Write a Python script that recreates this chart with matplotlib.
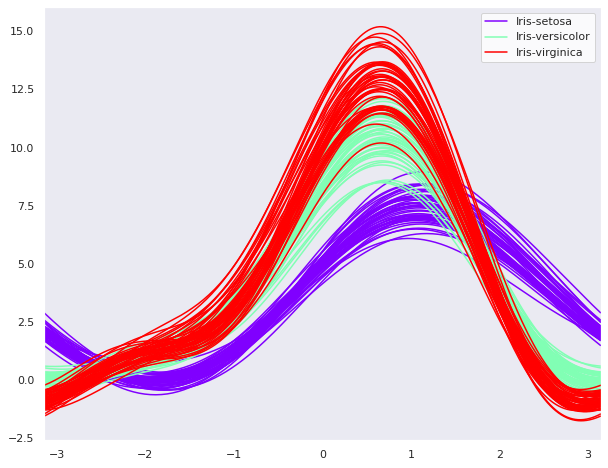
import numpy as np
import matplotlib
matplotlib.use("Agg")
import matplotlib.pyplot as plt
import seaborn as sns

# -----------------------------
# Iris measurements per species
# -----------------------------
setosa_sl = [5.1, 4.9, 4.7, 4.6, 5.0, 5.4, 4.6, 5.0, 4.4, 4.9, 5.4, 4.8, 4.8, 4.3, 5.8, 5.7, 5.4, 5.1, 5.7, 5.1,
             5.4, 5.1, 4.6, 5.1, 4.8, 5.0, 5.0, 5.2, 5.2, 4.7, 4.8, 5.4, 5.2, 5.5, 4.9, 5.0, 5.5, 4.9, 4.4, 5.1,
             5.0, 4.5, 4.4, 5.0, 5.1, 4.8, 5.1, 4.6, 5.3, 5.0]
setosa_sw = [3.5, 3.0, 3.2, 3.1, 3.6, 3.9, 3.4, 3.4, 2.9, 3.1, 3.7, 3.4, 3.0, 3.0, 4.0, 4.4, 3.9, 3.5, 3.8, 3.8,
             3.4, 3.7, 3.6, 3.3, 3.4, 3.0, 3.4, 3.5, 3.4, 3.2, 3.1, 3.4, 4.1, 4.2, 3.1, 3.2, 3.5, 3.1, 3.0, 3.4,
             3.5, 2.3, 3.2, 3.5, 3.8, 3.0, 3.8, 3.2, 3.7, 3.3]
setosa_pl = [1.4, 1.4, 1.3, 1.5, 1.4, 1.7, 1.4, 1.5, 1.4, 1.5, 1.5, 1.6, 1.4, 1.1, 1.2, 1.5, 1.3, 1.4, 1.7, 1.5,
             1.7, 1.5, 1.0, 1.7, 1.9, 1.6, 1.6, 1.5, 1.4, 1.6, 1.6, 1.5, 1.5, 1.4, 1.5, 1.2, 1.3, 1.5, 1.3, 1.5,
             1.3, 1.3, 1.3, 1.6, 1.9, 1.4, 1.6, 1.4, 1.5, 1.4]
setosa_pw = [0.2, 0.2, 0.2, 0.2, 0.2, 0.4, 0.3, 0.2, 0.2, 0.1, 0.2, 0.2, 0.1, 0.1, 0.2, 0.4, 0.4, 0.3, 0.3, 0.3,
             0.2, 0.4, 0.2, 0.5, 0.2, 0.2, 0.4, 0.2, 0.2, 0.2, 0.2, 0.4, 0.1, 0.2, 0.1, 0.2, 0.2, 0.1, 0.2, 0.2,
             0.3, 0.3, 0.2, 0.6, 0.4, 0.3, 0.2, 0.2, 0.2, 0.2]

versicolor_sl = [7.0, 6.4, 6.9, 5.5, 6.5, 5.7, 6.3, 4.9, 6.6, 5.2, 5.0, 5.9, 6.0, 6.1, 5.6, 6.7, 5.6, 5.8, 6.2, 5.6,
                 5.9, 6.1, 6.3, 6.1, 6.4, 6.6, 6.8, 6.7, 6.0, 5.7, 5.5, 5.5, 5.8, 6.0, 5.4, 6.0, 6.7, 6.3, 5.6, 5.5,
                 5.5, 6.1, 5.8, 5.0, 5.6, 5.7, 5.7, 6.2, 5.1, 5.7]
versicolor_sw = [3.2, 3.2, 3.1, 2.3, 2.8, 2.8, 3.3, 2.4, 2.9, 2.7, 2.0, 3.0, 2.2, 2.9, 2.9, 3.1, 3.0, 2.7, 2.2, 2.5,
                 3.2, 2.8, 2.5, 2.8, 2.9, 3.0, 2.8, 3.0, 2.9, 2.6, 2.4, 2.4, 2.7, 2.7, 3.0, 3.4, 3.1, 2.3, 3.0, 2.5,
                 2.6, 3.0, 2.6, 2.3, 2.7, 3.0, 2.9, 2.9, 2.5, 2.8]
versicolor_pl = [4.7, 4.5, 4.9, 4.0, 4.6, 4.5, 4.7, 3.3, 4.6, 3.9, 3.5, 4.2, 4.0, 4.7, 3.6, 4.4, 4.5, 4.1, 4.5, 3.9,
                 4.8, 4.0, 4.9, 4.7, 4.3, 4.4, 4.8, 5.0, 4.5, 3.5, 3.8, 3.7, 3.9, 5.1, 4.5, 4.5, 4.7, 4.4, 4.1, 4.0,
                 4.4, 4.6, 4.0, 3.3, 4.2, 4.2, 4.2, 4.3, 3.0, 4.1]
versicolor_pw = [1.4, 1.5, 1.5, 1.3, 1.5, 1.3, 1.6, 1.0, 1.3, 1.4, 1.0, 1.5, 1.0, 1.4, 1.3, 1.4, 1.5, 1.0, 1.5, 1.1,
                 1.8, 1.3, 1.5, 1.2, 1.3, 1.4, 1.4, 1.7, 1.5, 1.0, 1.1, 1.0, 1.2, 1.6, 1.5, 1.6, 1.5, 1.3, 1.3, 1.3,
                 1.2, 1.4, 1.2, 1.0, 1.3, 1.2, 1.3, 1.3, 1.1, 1.3]

virginica_sl = [6.3, 5.8, 7.1, 6.3, 6.5, 7.6, 4.9, 7.3, 6.7, 7.2, 6.5, 6.4, 6.8, 5.7, 5.8, 6.4, 6.5, 7.7, 7.7, 6.0,
                6.9, 5.6, 7.7, 6.3, 6.7, 7.2, 6.2, 6.1, 6.4, 7.2, 7.4, 7.9, 6.4, 6.3, 6.1, 7.7, 6.3, 6.4, 6.0, 6.9,
                6.7, 6.9, 5.8, 6.8, 6.7, 6.7, 6.3, 6.5, 6.2, 5.9]
virginica_sw = [3.3, 2.7, 3.0, 2.9, 3.0, 3.0, 2.5, 2.9, 2.5, 3.6, 3.2, 2.7, 3.0, 2.5, 2.8, 3.2, 3.0, 3.8, 2.6, 2.2,
                3.2, 2.8, 2.8, 2.7, 3.3, 3.2, 2.8, 3.0, 2.8, 3.0, 2.8, 3.8, 2.8, 2.8, 2.6, 3.0, 3.4, 3.1, 3.0, 3.1,
                3.1, 3.1, 2.7, 3.2, 3.3, 3.0, 2.5, 3.0, 3.4, 3.0]
virginica_pl = [6.0, 5.1, 5.9, 5.6, 5.8, 6.6, 4.5, 6.3, 5.8, 6.1, 5.1, 5.3, 5.5, 5.0, 5.1, 5.3, 5.5, 6.7, 6.9, 5.0,
                5.7, 4.9, 6.7, 4.9, 5.7, 6.0, 4.8, 4.9, 5.6, 5.8, 6.1, 6.4, 5.6, 5.1, 5.6, 6.1, 5.6, 5.5, 4.8, 5.4,
                5.6, 5.1, 5.1, 5.9, 5.7, 5.2, 5.0, 5.2, 5.4, 5.1]
virginica_pw = [2.5, 1.9, 2.1, 1.8, 2.2, 2.1, 1.7, 1.8, 1.8, 2.5, 2.0, 1.9, 2.1, 2.0, 2.4, 2.3, 1.8, 2.2, 2.3, 1.5,
                2.3, 2.0, 2.0, 1.8, 2.1, 1.8, 1.8, 1.8, 2.1, 1.6, 1.9, 2.0, 2.2, 1.5, 1.4, 2.3, 2.4, 1.8, 1.8, 2.1,
                2.4, 2.3, 1.9, 2.3, 2.5, 2.3, 1.9, 2.0, 2.4, 1.8]

species = ["Iris-setosa", "Iris-versicolor", "Iris-virginica"]
groups = [
    (setosa_sl, setosa_sw, setosa_pl, setosa_pw),
    (versicolor_sl, versicolor_sw, versicolor_pl, versicolor_pw),
    (virginica_sl, virginica_sw, virginica_pl, virginica_pw),
]

# -----------------------------
# Andrews curves
# f(t) = x1/sqrt(2) + x2 sin(t) + x3 cos(t) + x4 sin(2t)
# -----------------------------
sns.set_theme()
plt.rcParams['font.family'] = ['DejaVu Sans']

fig = plt.figure(figsize=(608 / 72, 468 / 72), dpi=72)
ax = fig.add_axes([0.0724, 0.0588, 0.9153, 0.9262])

t = np.linspace(-np.pi, np.pi, 200)
colors = plt.get_cmap("rainbow")(np.linspace(0, 1, len(species)))

for name, color, (sl, sw, pl, pw) in zip(species, colors, groups):
    for i in range(len(sl)):
        y = sl[i] / np.sqrt(2.0) + sw[i] * np.sin(t) + pl[i] * np.cos(t) + pw[i] * np.sin(2 * t)
        ax.plot(t, y, color=color, label=name if i == 0 else None)

ax.set_xlim(-np.pi, np.pi)
ax.grid(False)
leg = ax.legend(loc="upper right")
leg.get_frame().set_facecolor("white")

fig.savefig("out.png", dpi=72)
